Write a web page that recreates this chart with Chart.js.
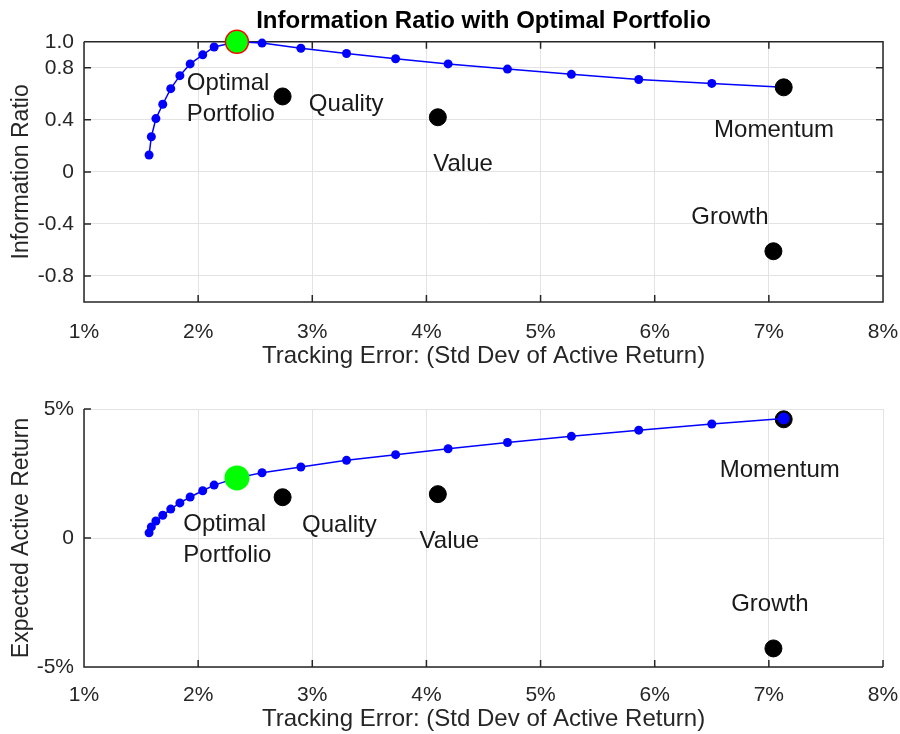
<!DOCTYPE html>
<html>
<head>
<meta charset="utf-8">
<script src="https://cdn.jsdelivr.net/npm/chart.js@4.4.1/dist/chart.umd.min.js"></script>
<style>
  body { margin: 0; background: #fff; }
  #wrap { position: relative; width: 900px; height: 734px; }
  .panel { position: absolute; left: 0; width: 900px; }
</style>
</head>
<body>
<div id="wrap">
  <div class="panel" style="top:0;height:372px"><canvas id="irChart"></canvas></div>
  <div class="panel" style="top:372px;height:362px"><canvas id="retChart"></canvas></div>
</div>
<script>
// efficient frontier (tracking error in %, information ratio, expected active return in %)
const frontierTE  = [1.57, 1.59, 1.63, 1.69, 1.76, 1.84, 1.93, 2.04, 2.14, 2.34, 2.56, 2.90, 3.30, 3.73, 4.19, 4.71, 5.27, 5.86, 6.50, 7.13];
const frontierIR  = [0.13, 0.27, 0.41, 0.52, 0.64, 0.74, 0.83, 0.90, 0.96, 1.00, 0.99, 0.95, 0.91, 0.87, 0.83, 0.79, 0.75, 0.71, 0.68, 0.65];
const frontierRet = [0.20, 0.43, 0.66, 0.88, 1.12, 1.36, 1.59, 1.83, 2.05, 2.33, 2.53, 2.75, 3.01, 3.23, 3.46, 3.70, 3.94, 4.18, 4.42, 4.63];

const optimalTE = 2.34;
const optimalIR = 1.00;
const optimalRet = 2.33;

const assetNames = ['Quality', 'Value', 'Momentum', 'Growth'];
const assetTE  = [2.74, 4.10, 7.13, 7.04];
const assetIR  = [0.58, 0.42, 0.65, -0.61];
const assetRet = [1.58, 1.70, 4.60, -4.28];

// text annotations
const labelLines = [['Optimal', 'Portfolio'], ['Quality'], ['Value'], ['Momentum'], ['Growth']];
const irLabelTE  = [1.90, 2.97, 4.06, 6.52, 6.32];
const irLabelY   = [0.56, 0.52, 0.06, 0.32, -0.35];
const retLabelTE = [1.87, 2.91, 3.94, 6.57, 6.67];
const retLabelY  = [-0.07, 0.50, -0.12, 2.62, -2.58];

const xTicks = [1, 2, 3, 4, 5, 6, 7, 8];
const irTicks = [-0.8, -0.4, 0, 0.4, 0.8, 1.0];
const retTicks = [-5, 0, 5];

const FONT = '"Liberation Sans", Arial, Helvetica, sans-serif';
const TEXT = '#262626';
const GRID = '#e3e3e3';

Chart.defaults.font.family = FONT;
Chart.defaults.color = TEXT;

const toPoints = (xs, ys) => xs.map((v, i) => ({ x: v, y: ys[i] }));

// MATLAB style axes: dark left/bottom lines, optional box, ticks pointing inward
function axesFrame(box) {
    return {
        id: 'axesFrame',
        beforeDatasetsDraw(chart) {
            const { ctx, chartArea: a, scales: { x, y } } = chart;
            const tl = 7;
            ctx.save();
            ctx.strokeStyle = TEXT;
            ctx.lineWidth = 1.5;
            ctx.beginPath();
            ctx.moveTo(a.left, a.top);
            ctx.lineTo(a.left, a.bottom);
            ctx.lineTo(a.right, a.bottom);
            if (box) {
                ctx.lineTo(a.right, a.top);
                ctx.lineTo(a.left, a.top);
            }
            x.ticks.forEach(t => {
                const px = x.getPixelForValue(t.value);
                ctx.moveTo(px, a.bottom);
                ctx.lineTo(px, a.bottom - tl);
                if (box) {
                    ctx.moveTo(px, a.top);
                    ctx.lineTo(px, a.top + tl);
                }
            });
            y.ticks.forEach(t => {
                const py = y.getPixelForValue(t.value);
                ctx.moveTo(a.left, py);
                ctx.lineTo(a.left + tl, py);
                if (box) {
                    ctx.moveTo(a.right, py);
                    ctx.lineTo(a.right - tl, py);
                }
            });
            ctx.stroke();
            ctx.restore();
        }
    };
}

function textLabels(xs, ys) {
    return {
        id: 'textLabels',
        afterDatasetsDraw(chart) {
            const { ctx, scales: { x, y } } = chart;
            ctx.save();
            ctx.font = '24px ' + FONT;
            ctx.fillStyle = '#1a1a1a';
            ctx.textAlign = 'left';
            ctx.textBaseline = 'middle';
            labelLines.forEach((lines, i) => {
                const px = x.getPixelForValue(xs[i]);
                const py = y.getPixelForValue(ys[i]);
                lines.forEach((line, j) => {
                    ctx.fillText(line, px, py + (j - (lines.length - 1) / 2) * 31);
                });
            });
            ctx.restore();
        }
    };
}

function xScale(tickPad, height, titlePad) {
    return {
        type: 'linear',
        min: 1,
        max: 8,
        afterBuildTicks: s => { s.ticks = xTicks.map(v => ({ value: v })); },
        afterFit: s => {
            s.height = height;
            s.paddingLeft = 0;
            s.paddingRight = 0;
        },
        ticks: { padding: tickPad, font: { size: 21 }, color: TEXT, callback: v => v + '%' },
        grid: { color: GRID, drawTicks: false },
        border: { display: false },
        title: { display: true, text: 'Tracking Error: (Std Dev of Active Return)', font: { size: 24 }, color: TEXT, padding: { top: 0, bottom: titlePad } }
    };
}

function yScale(min, max, ticks, fmt, title) {
    return {
        type: 'linear',
        min: min,
        max: max,
        afterBuildTicks: s => { s.ticks = ticks.map(v => ({ value: v })); },
        afterFit: s => { s.width = 84; },
        ticks: { padding: 10, font: { size: 21 }, color: TEXT, callback: fmt },
        grid: { color: GRID, drawTicks: false },
        border: { display: false },
        title: { display: true, text: title, font: { size: 23 }, color: TEXT, padding: { top: 8, bottom: 0 } }
    };
}

const frontierStyle = {
    showLine: true,
    borderColor: '#0000ff',
    backgroundColor: '#0000ff',
    borderWidth: 1.5,
    pointBorderWidth: 0,
    pointHoverRadius: 4.5,
    clip: false
};

// top panel: information ratio
new Chart(document.getElementById('irChart'), {
    type: 'scatter',
    data: {
        datasets: [
            {
                data: [{ x: optimalTE, y: optimalIR }],
                pointRadius: 11.5,
                backgroundColor: '#00ff00',
                borderColor: '#ff0000',
                borderWidth: 1.5,
                clip: false
            },
            {
                data: toPoints(assetTE, assetIR),
                pointRadius: 8.5,
                backgroundColor: '#000000',
                borderColor: '#000000',
                borderWidth: 1,
                clip: false
            },
            Object.assign({ data: toPoints(frontierTE, frontierIR), pointRadius: 4.5 }, frontierStyle)
        ]
    },
    options: {
        responsive: true,
        maintainAspectRatio: false,
        animation: false,
        devicePixelRatio: 1,
        layout: { padding: { left: 0, right: 17, top: 0, bottom: 0 } },
        plugins: {
            legend: { display: false },
            tooltip: { enabled: false },
            title: {
                display: true,
                fullSize: false,
                text: 'Information Ratio with Optimal Portfolio',
                color: '#000',
                font: { size: 24, weight: 'bold' },
                padding: { top: 7, bottom: 6 }
            }
        },
        scales: {
            x: xScale(18, 70, 1),
            y: yScale(-1, 1, irTicks, v => (v === 1 ? '1.0' : v === 0 ? '0' : v.toFixed(1)), 'Information Ratio')
        }
    },
    plugins: [axesFrame(true), textLabels(irLabelTE, irLabelY)]
});

// bottom panel: expected active return
new Chart(document.getElementById('retChart'), {
    type: 'scatter',
    data: {
        datasets: [
            {
                data: [{ x: optimalTE, y: optimalRet }],
                pointRadius: 12.5,
                backgroundColor: '#00ff00',
                borderColor: '#00ff00',
                borderWidth: 0,
                clip: false
            },
            Object.assign({
                data: toPoints(frontierTE, frontierRet),
                pointRadius: c => (c.dataIndex === frontierTE.length - 1 ? 6 : 4.5)
            }, frontierStyle),
            {
                data: toPoints(assetTE, assetRet),
                pointRadius: 8.5,
                backgroundColor: '#000000',
                borderColor: '#000000',
                borderWidth: 1,
                clip: false
            }
        ]
    },
    options: {
        responsive: true,
        maintainAspectRatio: false,
        animation: false,
        devicePixelRatio: 1,
        layout: { padding: { left: 0, right: 17, top: 37, bottom: 0 } },
        plugins: {
            legend: { display: false },
            tooltip: { enabled: false }
        },
        scales: {
            x: xScale(16, 67, 0),
            y: yScale(-5, 5, retTicks, v => (v === 0 ? '0' : v + '%'), 'Expected Active Return')
        }
    },
    plugins: [axesFrame(false), textLabels(retLabelTE, retLabelY)]
});
</script>
</body>
</html>
